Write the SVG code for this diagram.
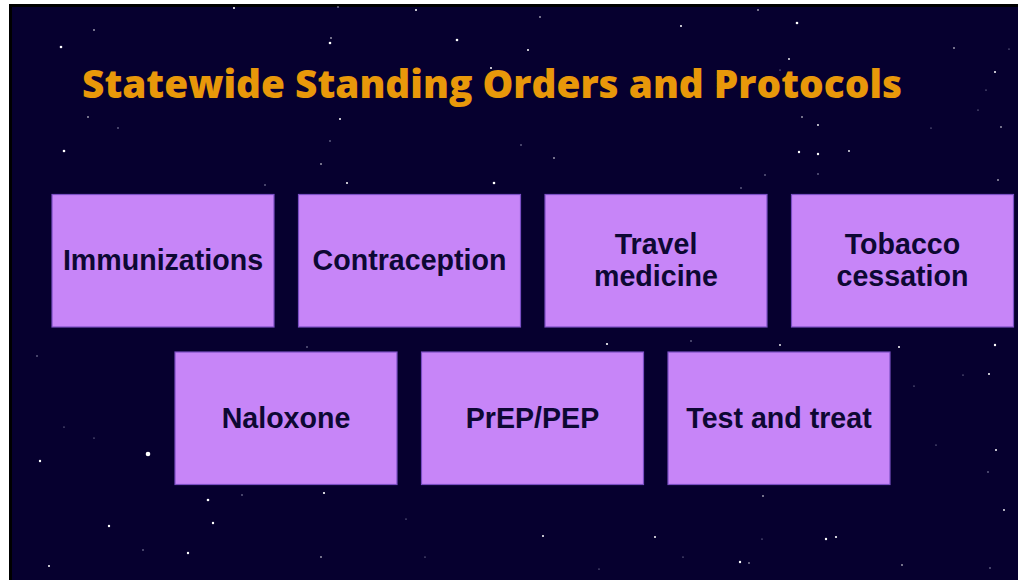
<svg xmlns="http://www.w3.org/2000/svg" width="1018" height="580" viewBox="0 0 1018 580">
<style>
.box{fill:#c785f8;stroke:#7b4fc4;stroke-width:1.2}
.lbl{font-family:"Liberation Sans",Arial,sans-serif;font-weight:bold;font-size:28.6px;fill:#0d0833;text-anchor:middle}
.title{font-family:"Open Sans","DejaVu Sans",sans-serif;font-weight:800;font-size:39px;fill:#e8980a}
.s{fill:#ffffff}
.d{fill:#b8b8d0}
</style>
<rect x="0" y="0" width="1018" height="580" fill="#ffffff"/>
<rect x="9" y="4" width="1009" height="576" fill="#000000"/>
<rect x="12" y="7" width="1006" height="573" fill="#06002f"/>
<g id="stars">
<circle class="s" cx="61" cy="47" r="1.3"/><circle class="s" cx="94" cy="30" r="0.8"/><circle class="s" cx="234" cy="8" r="1"/><circle class="s" cx="330" cy="43" r="1.3"/><circle class="s" cx="331" cy="38" r="0.8"/><circle class="d" cx="338" cy="7" r="0.8"/><circle class="s" cx="416" cy="10" r="1"/><circle class="s" cx="457" cy="40" r="1.3"/><circle class="s" cx="491" cy="68" r="1"/>
<circle class="s" cx="88" cy="117" r="0.8"/><circle class="d" cx="118" cy="128" r="0.7"/><circle class="s" cx="64" cy="151" r="1.3"/><circle class="s" cx="340" cy="119" r="1"/><circle class="d" cx="330" cy="141" r="0.7"/><circle class="s" cx="321" cy="164" r="0.8"/><circle class="s" cx="347" cy="183" r="1"/><circle class="d" cx="265" cy="185" r="0.7"/><circle class="s" cx="494" cy="183" r="1.3"/>
<circle class="s" cx="540" cy="17" r="0.8"/><circle class="s" cx="681" cy="26" r="1"/><circle class="s" cx="758" cy="10" r="0.8"/><circle class="s" cx="797" cy="23" r="1.3"/><circle class="s" cx="528" cy="50" r="1"/><circle class="s" cx="789" cy="59" r="0.9"/><circle class="d" cx="780" cy="70" r="0.6"/>
<circle class="s" cx="802" cy="117" r="0.8"/><circle class="s" cx="818" cy="125" r="0.9"/><circle class="s" cx="849" cy="151" r="0.9"/><circle class="s" cx="799" cy="152" r="1.2"/><circle class="s" cx="818" cy="154" r="1.2"/><circle class="d" cx="818" cy="174" r="0.7"/><circle class="d" cx="765" cy="175" r="0.7"/><circle class="d" cx="741" cy="188" r="0.7"/>
<circle class="s" cx="954" cy="48" r="0.8"/><circle class="s" cx="995" cy="72" r="1"/><circle class="d" cx="986" cy="90" r="0.6"/><circle class="d" cx="978" cy="110" r="0.6"/><circle class="s" cx="1001" cy="127" r="0.8"/><circle class="d" cx="1009" cy="49" r="0.6"/><circle class="d" cx="931" cy="128" r="0.6"/><circle class="s" cx="998" cy="180" r="0.8"/><circle class="d" cx="521" cy="145" r="0.7"/><circle class="s" cx="554" cy="158" r="0.8"/>
<circle class="d" cx="37" cy="356" r="0.7"/><circle class="s" cx="40" cy="461" r="1.2"/><circle class="d" cx="64" cy="427" r="0.6"/><circle class="d" cx="94" cy="438" r="0.6"/><circle class="s" cx="148" cy="454" r="2.3"/><circle class="s" cx="109" cy="526" r="1.2"/><circle class="s" cx="49" cy="566" r="1"/><circle class="d" cx="143" cy="550" r="0.7"/><circle class="s" cx="188" cy="553" r="1.2"/><circle class="s" cx="213" cy="523" r="1.2"/><circle class="s" cx="208" cy="500" r="1.3"/><circle class="d" cx="242" cy="495" r="0.7"/><circle class="s" cx="324" cy="493" r="1.1"/><circle class="s" cx="321" cy="557" r="0.8"/><circle class="d" cx="307" cy="347" r="0.7"/><circle class="d" cx="406" cy="519" r="0.6"/><circle class="d" cx="425" cy="557" r="0.6"/>
<circle class="s" cx="607" cy="344" r="1.1"/><circle class="d" cx="691" cy="341" r="0.7"/><circle class="s" cx="780" cy="345" r="0.9"/><circle class="s" cx="899" cy="347" r="1"/><circle class="s" cx="995" cy="345" r="1.2"/><circle class="s" cx="989" cy="374" r="1"/><circle class="d" cx="963" cy="375" r="0.6"/><circle class="d" cx="914" cy="386" r="0.6"/><circle class="s" cx="996" cy="450" r="1"/><circle class="d" cx="988" cy="472" r="0.7"/><circle class="s" cx="1004" cy="510" r="0.9"/>
<circle class="s" cx="763" cy="496" r="0.8"/><circle class="d" cx="762" cy="539" r="0.6"/><circle class="s" cx="826" cy="539" r="1.2"/><circle class="s" cx="655" cy="537" r="1"/><circle class="s" cx="740" cy="562" r="1.2"/><circle class="s" cx="902" cy="565" r="0.8"/><circle class="d" cx="990" cy="568" r="0.7"/><circle class="s" cx="836" cy="537" r="1.1"/><circle class="s" cx="543" cy="536" r="1"/><circle class="d" cx="936" cy="445" r="0.6"/><circle class="d" cx="683" cy="557" r="0.6"/><circle class="d" cx="599" cy="569" r="0.6"/><circle class="s" cx="749" cy="563" r="0.7"/>
</g>
<text class="title" x="82" y="98" textLength="820" lengthAdjust="spacingAndGlyphs">Statewide Standing Orders and Protocols</text>
<g id="connectors"></g>
<g id="immunizations"><rect class="box" x="52" y="194.5" width="222" height="132.5"/><text class="lbl" x="163" y="270">Immunizations</text></g>
<g id="contraception"><rect class="box" x="298.5" y="194.5" width="222" height="132.5"/><text class="lbl" x="409.5" y="270">Contraception</text></g>
<g id="travel"><rect class="box" x="545" y="194.5" width="222" height="132.5"/><text class="lbl" x="656" y="254">Travel</text><text class="lbl" x="656" y="286">medicine</text></g>
<g id="tobacco"><rect class="box" x="791.5" y="194.5" width="222" height="132.5"/><text class="lbl" x="902.5" y="254">Tobacco</text><text class="lbl" x="902.5" y="286">cessation</text></g>
<g id="naloxone"><rect class="box" x="175" y="352" width="222" height="132.5"/><text class="lbl" x="286" y="427.5">Naloxone</text></g>
<g id="prep"><rect class="box" x="421.5" y="352" width="222" height="132.5"/><text class="lbl" x="532.5" y="427.5">PrEP/PEP</text></g>
<g id="test"><rect class="box" x="668" y="352" width="222" height="132.5"/><text class="lbl" x="779" y="427.5">Test and treat</text></g>
</svg>
